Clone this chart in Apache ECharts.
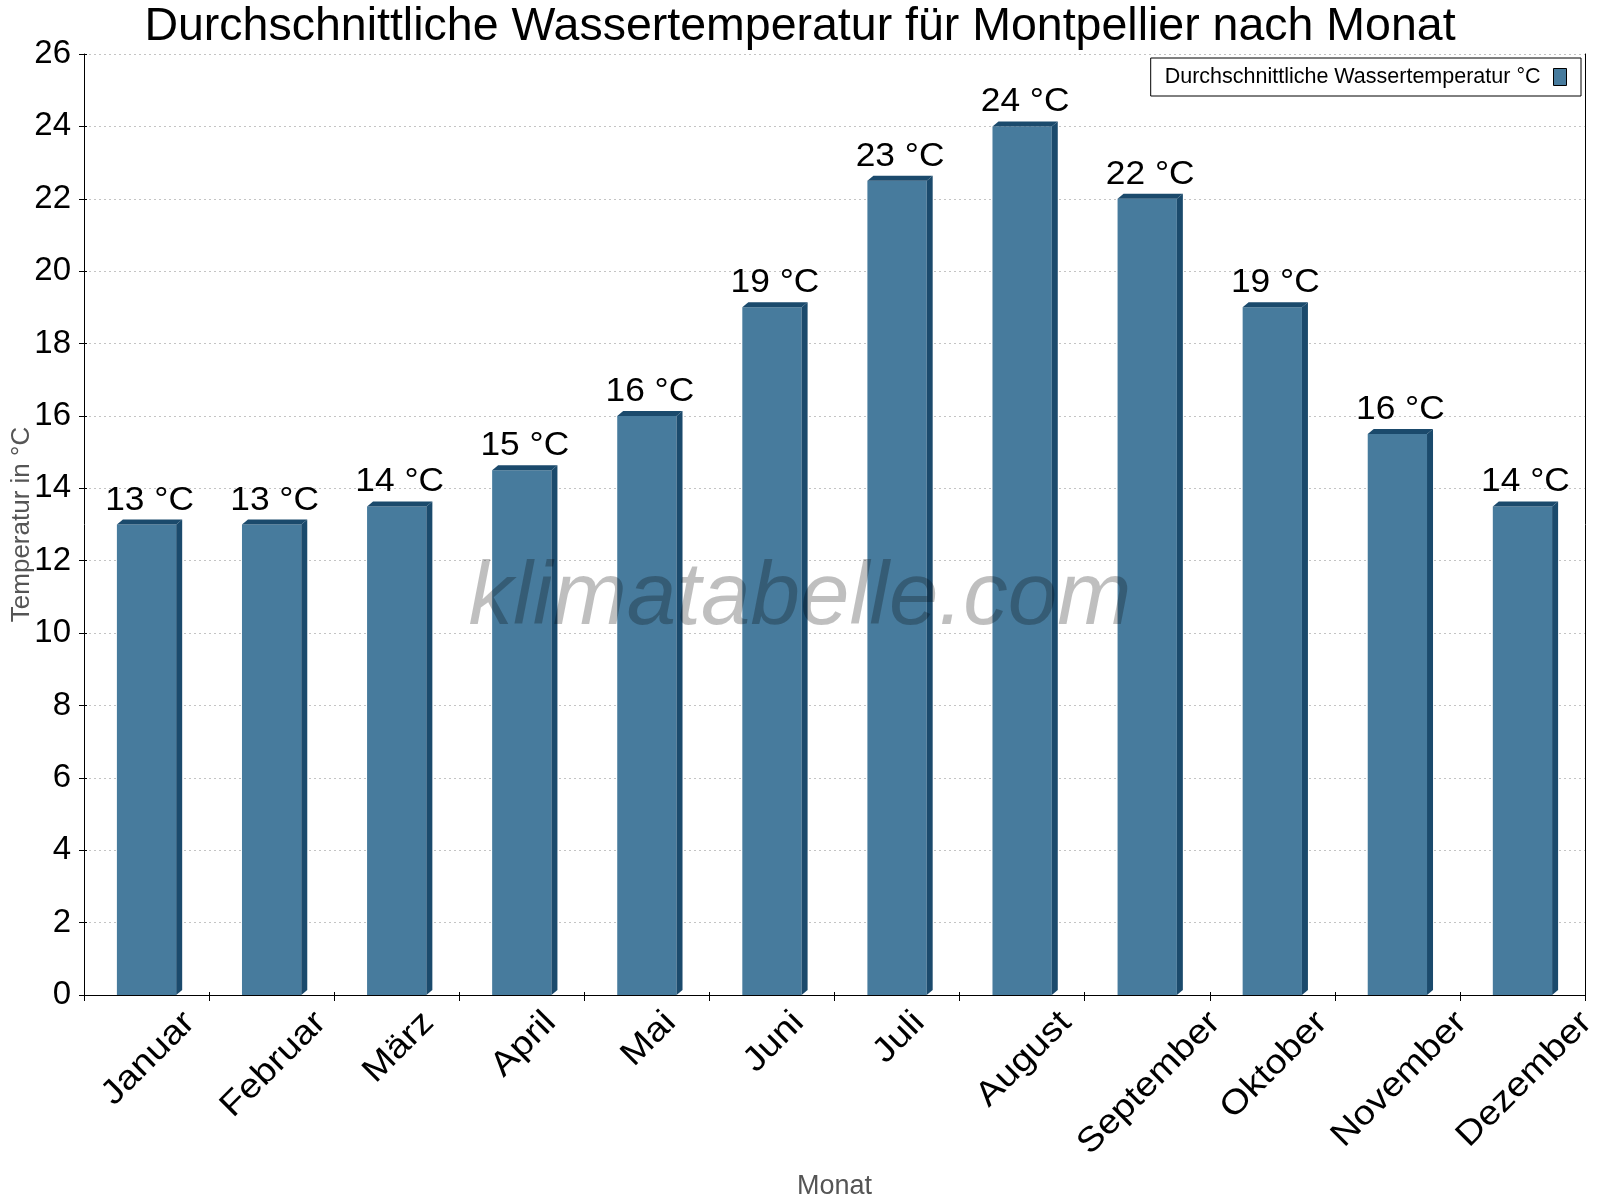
<!DOCTYPE html>
<html>
<head>
<meta charset="utf-8">
<script src="https://cdn.jsdelivr.net/npm/echarts@6/dist/echarts.min.js"></script>
<style>
html,body{margin:0;padding:0;background:#fff;}
#chart{width:1600px;height:1200px;}
</style>
</head>
<body>
<div id="chart"></div>
<script>
const months = ['Januar','Februar','März','April','Mai','Juni','Juli','August','September','Oktober','November','Dezember'];
const waterTemp = [13, 13, 13.5, 14.5, 16, 19, 22.5, 24, 22, 19, 15.5, 13.5];
const yMin = 0, yMax = 26, yStep = 2;
const seriesName = 'Durchschnittliche Wassertemperatur °C';
const titleText = 'Durchschnittliche Wassertemperatur für Montpellier nach Monat';
const yName = 'Temperatur in °C';
const xName = 'Monat';
const watermark = 'klimatabelle.com';

const FONT = '"Liberation Sans", Arial, Helvetica, sans-serif';
const FRONT = '#477b9d';
const DARK = '#1b4a6c';
const VAL_SIZE = 33, VAL_STRETCH = 1.07;
const MON_SIZE = 34, MON_STRETCH = 1.12;

const mctx = document.createElement('canvas').getContext('2d');
function textWidth(t, size) {
  mctx.font = size + 'px ' + FONT;
  return mctx.measureText(t).width;
}

const chart = echarts.init(document.getElementById('chart'), null, {renderer: 'canvas'});

function renderBar(params, api) {
  const i = api.value(0), v = api.value(1);
  const top = api.coord([i, v]);
  const base = api.coord([i, 0]);
  const bw = api.size([1, 0])[0] * 0.474;
  const x0 = top[0] - bw / 2, x1 = top[0] + bw / 2;
  const dx = 6, dy = 5;
  return {
    type: 'group',
    children: [
      {type: 'rect', shape: {x: x0, y: top[1], width: bw, height: base[1] - top[1]}, style: {fill: FRONT}},
      {type: 'polygon', shape: {points: [[x0, top[1]], [x0 + dx, top[1] - dy], [x1 + dx, top[1] - dy], [x1, top[1]]]}, style: {fill: DARK}},
      {type: 'polygon', shape: {points: [[x1, top[1]], [x1 + dx, top[1] - dy], [x1 + dx, base[1] - dy], [x1, base[1]]]}, style: {fill: DARK}},
      {type: 'text', x: top[0] + dx / 2, y: top[1] - 24, scaleX: VAL_STRETCH,
       style: {text: Math.round(v) + ' °C', fontFamily: FONT, fontSize: VAL_SIZE, fill: '#000', align: 'center', verticalAlign: 'middle'}}
    ]
  };
}

function renderMonthLabel(params, api) {
  const i = api.value(0);
  const p = api.coord([i, 0]);
  const t = months[i];
  const L = textWidth(t, MON_SIZE) * MON_STRETCH;
  const half = 0.7071 * (L + 24) / 2;
  return {
    type: 'text', x: p[0] + 2, y: p[1] + 14 + half, rotation: Math.PI / 4, scaleX: MON_STRETCH,
    style: {text: t, fontFamily: FONT, fontSize: MON_SIZE, fill: '#000', align: 'center', verticalAlign: 'middle'}
  };
}

const option = {
  animation: false,
  backgroundColor: '#fff',
  title: {
    text: titleText, left: 'center', top: -1,
    textStyle: {fontFamily: FONT, fontSize: 46.5, fontWeight: 'normal', color: '#000'}
  },
  legend: {
    data: [seriesName], right: 19, top: 58, align: 'right',
    backgroundColor: '#fff', borderColor: '#000', borderWidth: 1, borderRadius: 0,
    padding: [8, 14, 8, 14], itemWidth: 13, itemHeight: 17, icon: 'rect',
    itemStyle: {borderColor: '#000', borderWidth: 1},
    textStyle: {fontFamily: FONT, fontSize: 21.5, color: '#000', padding: [0, 8, 0, 0]}
  },
  grid: {left: 84, right: 15, top: 54, bottom: 205, containLabel: false, outerBoundsMode: 'none'},
  xAxis: [{
    type: 'category', data: months, boundaryGap: true, position: 'bottom',
    name: xName, nameLocation: 'middle', nameGap: 178, nameMoveOverlap: false,
    nameTextStyle: {fontFamily: FONT, fontSize: 27, color: '#555'},
    axisLine: {show: true, lineStyle: {color: '#000', width: 1}},
    axisTick: {show: true, length: 6, inside: false, lineStyle: {color: '#000'}},
    axisLabel: {show: false},
    splitLine: {show: false}
  }, {
    type: 'category', data: months, boundaryGap: true, position: 'bottom',
    axisLine: {show: false},
    axisTick: {show: true, length: 3, inside: true, lineStyle: {color: '#000'}},
    axisLabel: {show: false}, splitLine: {show: false}
  }],
  yAxis: [{
    type: 'value', min: yMin, max: yMax, interval: yStep, position: 'left',
    name: yName, nameLocation: 'middle', nameGap: 49, nameMoveOverlap: false,
    nameTextStyle: {fontFamily: FONT, fontSize: 26, color: '#555'},
    axisLine: {show: true, lineStyle: {color: '#000', width: 1}},
    axisTick: {show: true, length: 5, inside: false, lineStyle: {color: '#000'}},
    axisLabel: {fontFamily: FONT, fontSize: 33, color: '#000', margin: 13},
    splitLine: {show: true, lineStyle: {color: '#c4c4c4', width: 1, type: [2, 3]}}
  }, {
    type: 'value', min: yMin, max: yMax, interval: yStep, position: 'left',
    axisLine: {show: false},
    axisTick: {show: true, length: 3, inside: true, lineStyle: {color: '#000'}},
    axisLabel: {show: false}, splitLine: {show: false}
  }, {
    type: 'value', min: yMin, max: yMax, interval: yStep, position: 'right',
    axisLine: {show: true, lineStyle: {color: '#000', width: 1}},
    axisTick: {show: false}, axisLabel: {show: false}, splitLine: {show: false}
  }],
  series: [{
    name: seriesName, type: 'custom', clip: false,
    itemStyle: {color: FRONT},
    encode: {x: 0, y: 1},
    data: waterTemp.map((v, i) => [i, v]),
    renderItem: renderBar,
    z: 3
  }, {
    name: 'labels', type: 'custom', clip: false, silent: true,
    encode: {x: 0, y: 1},
    data: months.map((m, i) => [i, 0]),
    renderItem: renderMonthLabel,
    z: 3
  }],
  graphic: [{
    type: 'text', left: 'center', top: 555, z: 100, silent: true,
    style: {text: watermark, fontFamily: FONT, fontSize: 89, fontStyle: 'italic', fill: 'rgba(0,0,0,0.25)'}
  }]
};
chart.setOption(option);
</script>
</body>
</html>
